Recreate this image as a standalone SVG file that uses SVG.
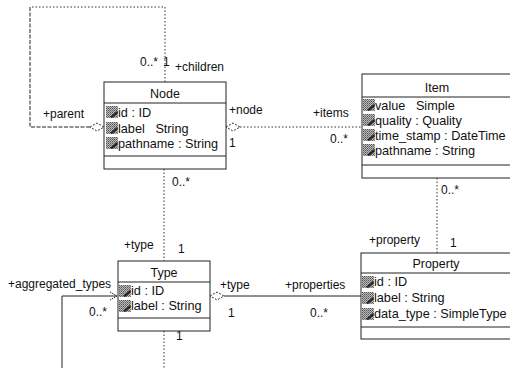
<svg xmlns="http://www.w3.org/2000/svg" width="510" height="368" viewBox="0 0 510 368">
<style>
  text { font-family: "Liberation Sans", Arial, sans-serif; font-size: 12px; fill: #111; white-space: pre; }
  .attr { font-size: 12.7px; }
  .title { text-anchor: middle; font-size: 12.5px; }
  .box { fill: #fff; stroke: #222; stroke-width: 1; }
  .sep { stroke: #222; stroke-width: 1; }
  .dot { fill: none; stroke: #333; stroke-width: 1; stroke-dasharray: 1.5 2; }
  .solid { fill: none; stroke: #222; stroke-width: 1; }
  .dia { fill: #fff; stroke: #333; stroke-width: 1; stroke-dasharray: 2 1.5; }
</style>
<defs>
  <pattern id="chk" width="2" height="2" patternUnits="userSpaceOnUse">
    <rect width="2" height="2" fill="#bbb"/>
    <rect width="1" height="1" fill="#555"/>
    <rect x="1" y="1" width="1" height="1" fill="#777"/>
  </pattern>
  <g id="ico">
    <rect x="0" y="0" width="12" height="12" fill="url(#chk)"/>
    <path d="M4 11 L11 5 L12 7 L6 12 Z" fill="#222"/>
  </g>
</defs>
<rect width="510" height="368" fill="#fff"/>

<g id="connectors">
  <path class="dot" d="M165 82 V7 H30"/>
  <path class="solid" d="M30 7 V127 H90" stroke-dasharray="4 1.5"/>
  <polygon class="dia" points="90,127 97,123 104,127 97,131"/>
  <polygon class="dia" points="226,127 233,123 240,127 233,131"/>
  <path class="dot" d="M240 127 H362"/>
  <path class="dot" d="M164 169 V261"/>
  <path class="dot" d="M437 178 V253"/>
  <polygon class="dia" points="210,296 217,292 224,296 217,300"/>
  <path class="solid" d="M224 296 H361"/>
  <path class="solid" d="M62 368 V296 H117"/>
  <path class="solid" d="M110 292 L117 296 L110 300" stroke-dasharray="1.5 1"/>
  <path class="dot" d="M164 331 V368"/>
</g>

<g id="labels">
  <text x="140" y="66">0..*</text>
  <text x="163" y="66">1</text>
  <text x="175" y="71">+children</text>
  <text x="43" y="118">+parent</text>
  <text x="229" y="114">+node</text>
  <text x="313" y="117">+items</text>
  <text x="229" y="147">1</text>
  <text x="330" y="143">0..*</text>
  <text x="172" y="186">0..*</text>
  <text x="441" y="194">0..*</text>
  <text x="124" y="249">+type</text>
  <text x="178" y="253">1</text>
  <text x="369" y="244">+property</text>
  <text x="450" y="247">1</text>
  <text x="8" y="288">+aggregated_types</text>
  <text x="89" y="316">0..*</text>
  <text x="220" y="289">+type</text>
  <text x="285" y="289">+properties</text>
  <text x="228" y="317">1</text>
  <text x="310" y="317">0..*</text>
  <text x="176" y="340">1</text>
</g>

<g id="node-Node">
  <rect class="box" x="104" y="82" width="122" height="87"/>
  <line class="sep" x1="104" y1="103" x2="226" y2="103"/>
  <line class="sep" x1="104" y1="156" x2="226" y2="156"/>
  <text class="title" x="165" y="98">Node</text>
  <use href="#ico" x="106" y="106"/>
  <use href="#ico" x="106" y="122"/>
  <use href="#ico" x="106" y="137"/>
  <text class="attr" x="118" y="117">id : ID</text>
  <text class="attr" x="118" y="133">label   String</text>
  <text class="attr" x="118" y="148">pathname : String</text>
</g>

<g id="node-Item">
  <rect class="box" x="362" y="74" width="152" height="104"/>
  <line class="sep" x1="362" y1="97" x2="514" y2="97"/>
  <line class="sep" x1="362" y1="165" x2="514" y2="165"/>
  <text class="title" x="437" y="92">Item</text>
  <use href="#ico" x="363" y="99"/>
  <use href="#ico" x="363" y="114"/>
  <use href="#ico" x="363" y="129"/>
  <use href="#ico" x="363" y="144"/>
  <text class="attr" x="375" y="110">value   Simple</text>
  <text class="attr" x="375" y="125">quality : Quality</text>
  <text class="attr" x="375" y="140">time_stamp : DateTime</text>
  <text class="attr" x="375" y="155">pathname : String</text>
</g>

<g id="node-Type">
  <rect class="box" x="118" y="261" width="92" height="70"/>
  <line class="sep" x1="118" y1="282" x2="210" y2="282"/>
  <line class="sep" x1="118" y1="318" x2="210" y2="318"/>
  <text class="title" x="164" y="277">Type</text>
  <use href="#ico" x="119" y="285"/>
  <use href="#ico" x="119" y="300"/>
  <text class="attr" x="131" y="295">id : ID</text>
  <text class="attr" x="131" y="310">label : String</text>
</g>

<g id="node-Property">
  <rect class="box" x="361" y="253" width="153" height="86"/>
  <line class="sep" x1="361" y1="273" x2="514" y2="273"/>
  <line class="sep" x1="361" y1="327" x2="514" y2="327"/>
  <text class="title" x="436" y="268">Property</text>
  <use href="#ico" x="362" y="276"/>
  <use href="#ico" x="362" y="292"/>
  <use href="#ico" x="362" y="308"/>
  <text class="attr" x="374" y="286">id : ID</text>
  <text class="attr" x="374" y="302">label : String</text>
  <text class="attr" x="374" y="318">data_type : SimpleType</text>
</g>
</svg>
